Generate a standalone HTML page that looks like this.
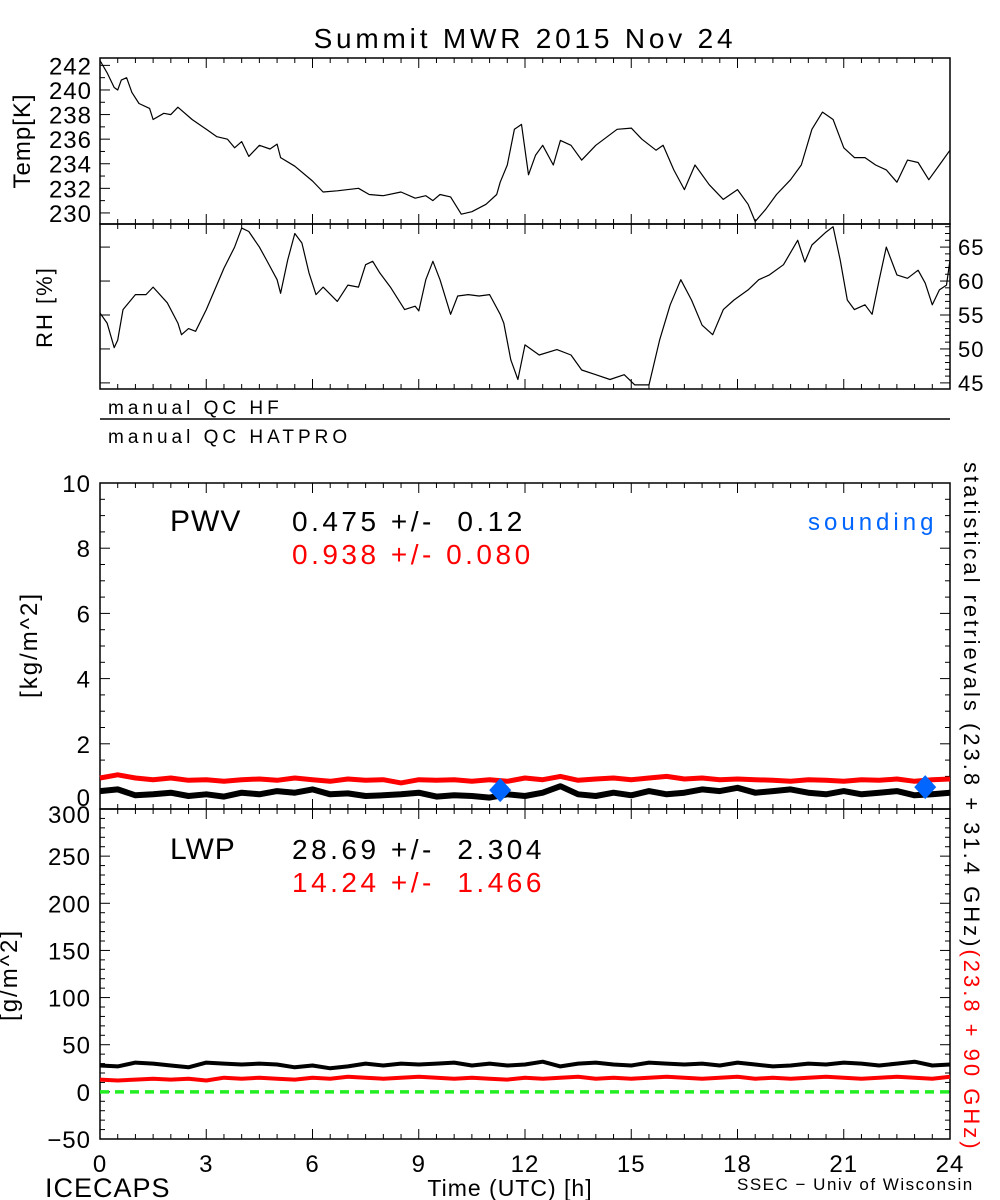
<!DOCTYPE html>
<html><head><meta charset="utf-8"><style>
html,body{margin:0;padding:0;background:#fff;}
svg{display:block;font-family:"Liberation Sans",sans-serif;}
svg text{white-space:pre;}
</style></head><body>
<svg id="chart" width="1000" height="1200" viewBox="0 0 1000 1200" xmlns="http://www.w3.org/2000/svg">
<rect width="1000" height="1200" fill="#fff"/>
<g id="g"></g>
</svg>
<script>
const tempHours=[0,0.2,0.4,0.5,0.6,0.75,0.9,1.1,1.4,1.5,1.8,2.0,2.2,2.6,3.0,3.3,3.6,3.8,4.0,4.2,4.5,4.8,5.0,5.1,5.5,6.0,6.3,6.7,7.3,7.6,8.0,8.5,8.9,9.2,9.4,9.6,9.9,10.2,10.5,10.9,11.2,11.3,11.5,11.7,11.9,12.1,12.3,12.5,12.8,13.0,13.3,13.6,14.0,14.6,15.0,15.3,15.7,15.9,16.2,16.5,16.8,17.2,17.6,18.0,18.3,18.5,18.8,19.1,19.5,19.8,20.1,20.4,20.7,21.0,21.3,21.6,21.9,22.2,22.5,22.8,23.1,23.4,23.7,24];
const tempValues=[242.4,241.4,240.2,240,240.8,241,239.8,238.9,238.5,237.6,238.1,238,238.6,237.6,236.8,236.2,236,235.3,235.8,234.6,235.5,235.2,235.6,234.5,233.8,232.6,231.7,231.8,232,231.5,231.4,231.7,231.2,231.4,231,231.5,231.3,229.9,230.1,230.7,231.5,232.5,233.9,236.8,237.2,233.1,234.7,235.5,233.9,235.9,235.5,234.3,235.5,236.8,236.9,236,235.1,235.5,233.5,231.9,233.9,232.3,231.1,231.9,230.7,229.3,230.3,231.5,232.7,233.9,236.8,238.2,237.6,235.3,234.5,234.5,233.9,233.5,232.5,234.3,234.1,232.7,233.9,235.1];
const rhHours=[0,0.2,0.4,0.5,0.65,1.0,1.3,1.5,1.9,2.2,2.3,2.5,2.7,3.0,3.5,3.8,4.0,4.2,4.5,4.7,5.0,5.1,5.3,5.5,5.7,5.9,6.1,6.3,6.7,7.0,7.3,7.5,7.7,7.9,8.2,8.6,8.9,9.0,9.2,9.4,9.6,9.9,10.1,10.4,10.7,11.0,11.3,11.4,11.6,11.8,12,12.4,12.9,13.3,13.6,14,14.4,14.8,15.1,15.5,15.8,16.1,16.4,16.7,17.0,17.3,17.6,17.9,18.3,18.6,18.9,19.3,19.7,19.9,20.1,20.5,20.7,20.9,21.1,21.3,21.6,21.8,22.0,22.2,22.5,22.8,23.1,23.3,23.5,23.7,23.9,24];
const rhValues=[55.3,53.8,50.2,51.3,55.8,58,58,59.1,56.8,53.8,52.1,53,52.6,55.8,61.9,65,67.8,67.3,65,63.1,60.2,58.2,63.1,67,65.6,61.2,58,59.1,57,59.4,59.1,62.4,62.9,61.2,59.1,55.8,56.3,55.6,60.2,62.9,60.2,55.1,57.8,58,57.8,58,55.1,53.8,48.4,45.5,50.6,49.1,49.9,49.1,46.9,46.2,45.5,46.2,44.7,44.7,51.3,56.5,60.2,57.2,53.5,52.1,55.8,57.2,58.7,60.2,60.9,62.4,66,62.8,65.3,67.2,68,63.1,57.2,55.8,56.5,55.1,60.2,65,60.9,60.4,61.6,59.7,56.5,58.7,59.4,63.1];
const pwvHmr=[0.55,0.6,0.42,0.45,0.5,0.4,0.45,0.38,0.5,0.45,0.55,0.5,0.6,0.45,0.48,0.4,0.42,0.45,0.5,0.38,0.42,0.4,0.35,0.45,0.4,0.5,0.7,0.45,0.4,0.5,0.42,0.55,0.45,0.5,0.6,0.55,0.65,0.5,0.55,0.6,0.5,0.45,0.55,0.45,0.5,0.55,0.42,0.45,0.5];
const pwvRed=[0.95,1.05,0.95,0.9,0.95,0.88,0.9,0.85,0.9,0.92,0.88,0.95,0.9,0.85,0.92,0.88,0.9,0.8,0.9,0.88,0.9,0.85,0.9,0.85,0.95,0.9,1.0,0.88,0.92,0.95,0.9,0.95,1.0,0.92,0.95,0.9,0.92,0.9,0.88,0.85,0.9,0.88,0.85,0.9,0.88,0.92,0.85,0.9,0.92];
const lwpBlack=[28,27,31,30,28,26,31,30,29,30,29,26,28,25,27,30,28,30,29,30,31,28,30,28,29,32,27,30,31,29,28,31,30,29,30,28,31,29,27,28,30,29,31,30,28,30,32,28,29];
const lwpRed=[13,12,13,14,13,14,12,15,14,15,14,13,15,14,16,15,14,15,16,15,14,15,14,13,15,14,15,16,14,15,14,15,16,15,14,15,16,14,15,14,15,16,15,14,15,16,15,14,16];
const soundingHours=[11.3,23.3];
const soundingPwv=[0.58,0.67];
const xTicks=[0,3,6,9,12,15,18,21,24];
const tempTicks=[230,232,234,236,238,240,242];
const rhTicks=[45,50,55,60,65];
const pwvTicks=[0,2,4,6,8,10];
const lwpTicks=[-50,0,50,100,150,200,250,300];

const NS='http://www.w3.org/2000/svg';
const G=document.getElementById('g');
function el(tag,attrs,parent){const e=document.createElementNS(NS,tag);for(const k in attrs)e.setAttribute(k,attrs[k]);(parent||G).appendChild(e);return e;}
const X0=100,X1=950;
const x=h=>X0+(X1-X0)*h/24;
function yScale(lo,hi,top,bot){return v=>bot-(v-lo)/(hi-lo)*(bot-top);}
const yT=yScale(229.1,242.6,58,224);
const yR=yScale(44.1,68.4,224,389);
const yP=yScale(0,10,483,809);
const yL=yScale(-50,300,809,1139);

function txt(s,xx,yy,size,anchor,fill,name,ls){const t=el('text',{x:xx,y:yy,'font-size':size,'text-anchor':anchor||'start',fill:fill||'#000'});if(ls)t.setAttribute('letter-spacing',ls);t.textContent=s;return t;}

function panel(top,bot,name){
  const g=el('g',{});
  
  
  el('rect',{x:X0,y:top,width:X1-X0,height:bot-top,fill:'none',stroke:'#000','stroke-width':1.5},g);
  for(let h=0;h<=24;h+=0.5){const major=(h%3===0);const L=major?10:5;
    el('line',{x1:x(h),x2:x(h),y1:top,y2:top+L,stroke:'#000'},g);
    el('line',{x1:x(h),x2:x(h),y1:bot,y2:bot-L,stroke:'#000'},g);}
  return g;
}
function yticks(g,ticks,minorStep,lo,hi,ys,side){
  const xx=side==='right'?X1:X0, d=side==='right'?-1:1;
  for(let v=Math.ceil(lo/minorStep)*minorStep;v<=hi+1e-9;v+=minorStep){
    const major=ticks.some(t=>Math.abs(t-v)<1e-6);
    el('line',{x1:xx,x2:xx+d*(major?10:5),y1:ys(v),y2:ys(v),stroke:'#000'},g);}
}
function path(hs,vs,xs,ys,color,w,name,dash){
  let d='';hs.forEach((h,i)=>{d+=(i?'L':'M')+xs(h).toFixed(1)+','+ys(vs[i]).toFixed(1);});
  const p=el('path',{d:d,fill:'none',stroke:color,'stroke-width':w,'stroke-linejoin':'round'});
  if(dash)p.setAttribute('stroke-dasharray',dash);
  
  
  return p;
}
const halfHours=pwvHmr.map((_,i)=>i*0.5);

txt('Summit MWR 2015 Nov 24',525,48,28,'middle','#000','chart-title',3.8);

const gT=panel(58,224,'temp-panel');
yticks(gT,tempTicks,1,229.1,242.6,yT,'left');
tempTicks.forEach(v=>txt(String(v),92,yT(v)+9,24,'end','#000','temp-tick-label',1));
const tl=txt('Temp[K]',0,0,24,'middle','#000','temp-axis-title',1);tl.setAttribute('transform','translate(30,141) rotate(-90)');
path(tempHours,tempValues,x,yT,'#000',1.2,'temp-line');

const gR=panel(224,389,'rh-panel');
yticks(gR,rhTicks,1,44.1,68.4,yR,'right');
yticks(gR,rhTicks,5,44.1,68.4,yR,'left');
rhTicks.forEach(v=>txt(String(v),958,yR(v)+8,22,'start','#000','rh-tick-label',1));
const rl=txt('RH [%]',0,0,22,'middle','#000','rh-axis-title',2);rl.setAttribute('transform','translate(52,307) rotate(-90)');
path(rhHours,rhValues,x,yR,'#000',1.2,'rh-line');

txt('manual QC HF',108,414,19,'start','#000','qc-hf-label',4);
const ql=el('line',{x1:X0,x2:X1,y1:419,y2:419,stroke:'#000','stroke-width':1.5});


txt('manual QC HATPRO',108,443,19,'start','#000','qc-hatpro-label',4);

const gP=panel(483,809,'pwv-panel');
yticks(gP,pwvTicks,0.5,0,10,yP,'left');
yticks(gP,pwvTicks,0.5,0,10,yP,'right');
pwvTicks.forEach(v=>txt(String(v),91,yP(v)+(v===0?-3:9),24,'end','#000','pwv-tick-label',1));
const pl=txt('[kg/m^2]',0,0,24,'middle','#000','pwv-axis-title',2);pl.setAttribute('transform','translate(37,645) rotate(-90)');
txt('PWV',170,531,30,'start','#000','pwv-label',1);
txt('0.475 +/-  0.12',292,531,28,'start','#000','pwv-stat-black',3.5);
txt('0.938 +/- 0.080',292,564,28,'start','#ff0000','pwv-stat-red',3.5);
txt('sounding',808,530,24,'start','#0066ff','sounding-legend',4);
path(halfHours,pwvRed,x,yP,'#ff0000',5,'pwv-red-line');
path(halfHours,pwvHmr,x,yP,'#000',6,'pwv-black-line');
soundingHours.forEach((h,i)=>{const cx=x(h),cy=yP(soundingPwv[i]);
  const d=el('polygon',{points:`${cx},${cy-12} ${cx+11},${cy} ${cx},${cy+12} ${cx-11},${cy}`,fill:'#0066ff'});
  
  });

const gL=panel(809,1139,'lwp-panel');
yticks(gL,lwpTicks,10,-50,300,yL,'left');
yticks(gL,lwpTicks,10,-50,300,yL,'right');
lwpTicks.forEach(v=>txt(v<0?'\u2212'+Math.abs(v):String(v),91,yL(v)+(v===300?14:9),24,'end','#000','lwp-tick-label',1));
const ll=txt('[g/m^2]',0,0,24,'middle','#000','lwp-axis-title',2);ll.setAttribute('transform','translate(17,975) rotate(-90)');
txt('LWP',170,859,30,'start','#000','lwp-label',1);
txt('28.69 +/-  2.304',292,859,28,'start','#000','lwp-stat-black',3.5);
txt('14.24 +/-  1.466',292,892,28,'start','#ff0000','lwp-stat-red',3.5);
path([0,24],[0,0],x,yL,'#22ee22',3.5,'zero-line','9,6');
path(halfHours,lwpBlack,x,yL,'#000',4,'lwp-black-line');
path(halfHours,lwpRed,x,yL,'#ff0000',4,'lwp-red-line');

xTicks.forEach(h=>txt(String(h),x(h),1172,24,'middle','#000','x-tick-label',1));
txt('Time (UTC) [h]',510,1196,23,'middle','#000','x-axis-title',1);
txt('ICECAPS',45,1197,27,'start','#000','icecaps-label',1);
txt('SSEC \u2212 Univ of Wisconsin',737,1190,17,'start','#000','ssec-credit',1.5);

const rt=el('text',{'font-size':22,'letter-spacing':3,transform:'translate(964,462) rotate(90)'});


const s1=el('tspan',{fill:'#000'},rt);s1.textContent='statistical retrievals (23.8 + 31.4 GHz)';
const s2=el('tspan',{fill:'#ff0000'},rt);s2.textContent='(23.8 + 90 GHz)';
</script>
</body></html>
